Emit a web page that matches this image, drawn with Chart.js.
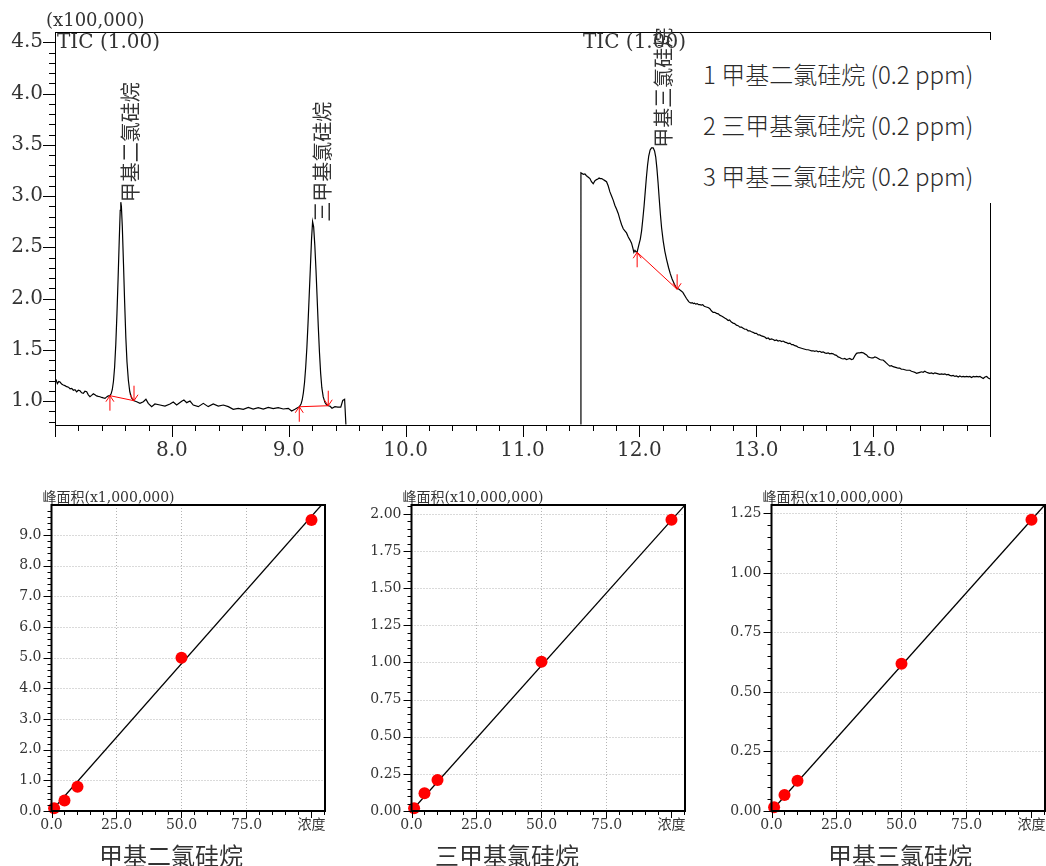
<!DOCTYPE html>
<html><head><meta charset="utf-8">
<script src="https://cdn.jsdelivr.net/npm/chart.js@4.4.1/dist/chart.umd.min.js"></script>
<style>
html,body{margin:0;padding:0;background:#fff;}
body{width:1046px;height:866px;overflow:hidden;position:relative;font-family:'Noto Sans CJK SC',sans-serif;}
canvas{position:absolute;}
#legend{position:absolute;left:700px;top:40px;width:292px;height:163px;background:#fff;padding:8px 0 0 3px;box-sizing:border-box;font-size:24px;line-height:51px;color:#2b2b2b;font-weight:300;white-space:nowrap;}
.ptitle{position:absolute;top:838px;font-size:24px;line-height:34px;color:#333;white-space:nowrap;transform:translateX(-50%);}
</style></head><body>
<canvas id="tic" width="1046" height="460" style="left:0;top:0"></canvas>
<div id="legend"></div>
<canvas id="cal0" width="340" height="386" style="left:0;top:480px"></canvas>
<canvas id="cal1" width="340" height="386" style="left:360px;top:480px"></canvas>
<canvas id="cal2" width="340" height="386" style="left:720px;top:480px"></canvas>
<div class="ptitle" id="pt0" style="left:171px"></div>
<div class="ptitle" id="pt1" style="left:507px"></div>
<div class="ptitle" id="pt2" style="left:900px"></div>
<script>
// ---------- chromatogram data (time in min, abundance x100,000) ----------
const seg1Time = [7.000,7.010,7.020,7.032,7.043,7.057,7.071,7.085,7.100,7.115,7.129,7.143,7.157,7.171,7.185,7.200,7.214,7.228,7.242,7.256,7.271,7.285,7.299,7.313,7.328,7.342,7.356,7.370,7.385,7.399,7.414,7.428,7.442,7.456,
 7.470,7.480,7.490,7.500,7.510,7.520,7.530,7.540,7.550,7.558,7.563,7.568,7.576,7.586,7.596,7.606,7.616,7.628,7.640,7.655,7.676,
 7.699,7.727,7.756,7.778,7.798,7.827,7.855,7.898,7.941,7.984,8.012,8.041,8.084,8.103,8.127,8.155,8.183,8.226,8.269,8.311,8.354,8.397,8.440,8.483,8.525,8.568,8.611,8.654,8.696,8.739,8.782,8.825,8.867,8.910,8.953,8.996,9.025,9.053,
 9.090,9.105,9.115,9.125,9.135,9.145,9.155,9.165,9.175,9.185,9.195,9.204,9.213,9.223,9.233,9.243,9.253,9.263,9.273,9.283,9.295,9.310,9.325,9.338,
 9.352,9.370,9.395,9.420,9.445,9.462,9.478,9.489];
const seg1Abund = [1.22,1.205,1.17,1.19,1.185,1.165,1.156,1.15,1.14,1.135,1.12,1.124,1.105,1.11,1.09,1.105,1.10,1.08,1.075,1.095,1.09,1.06,1.042,1.055,1.07,1.06,1.05,1.045,1.042,1.035,1.03,1.026,1.04,1.05,
 1.052,1.07,1.11,1.19,1.33,1.55,1.85,2.20,2.58,2.86,2.94,2.90,2.70,2.34,1.96,1.62,1.38,1.20,1.09,1.03,1.003,
 0.993,0.977,0.993,1.017,0.977,0.945,0.971,0.961,0.951,0.971,0.990,0.961,0.997,1.010,0.984,1.000,0.961,0.945,0.977,0.945,0.971,0.951,0.961,0.945,0.919,0.929,0.919,0.938,0.922,0.935,0.922,0.938,0.926,0.935,0.922,0.929,0.902,0.919,
 0.944,0.97,1.01,1.08,1.18,1.33,1.52,1.76,2.03,2.30,2.58,2.75,2.70,2.52,2.28,2.00,1.72,1.47,1.27,1.13,1.04,0.985,0.96,0.954,
 0.950,0.930,0.945,0.940,0.940,1.005,1.017,0.77];
const seg2Time = [11.500,11.500,11.510,11.520,11.534,11.545,11.555,11.566,11.577,11.590,11.605,11.620,11.634,11.645,11.655,11.666,11.677,11.690,11.705,11.719,11.733,11.748,11.762,11.776,11.790,11.805,11.819,11.834,11.848,11.862,11.876,11.890,11.905,11.920,11.933,11.945,11.953,11.962,11.971,11.981,
 11.995,12.008,12.019,12.030,12.040,12.050,12.060,12.070,12.080,12.092,12.104,12.118,12.130,12.140,12.150,12.160,12.170,12.180,12.190,12.204,12.218,12.233,12.250,12.265,12.280,12.300,12.318,
 12.330,12.340,12.350,12.361,12.372,12.382,12.393,12.403,12.413,12.422,12.432,12.442,12.452,12.462,12.472,12.482,12.495,12.507,12.518,12.530,12.542,12.555,12.567,12.580,12.592,12.603,12.616,12.631,12.645,12.660,12.675,12.690,12.703,12.717,12.730,12.745,12.760,12.772,12.787,12.802,12.815,12.830,12.845,12.860,12.874,12.888,12.902,12.916,12.930,12.945,12.959,12.973,12.987,13.002,13.016,13.030,13.045,13.059,13.073,13.088,13.102,13.116,13.130,13.145,13.159,13.173,13.187,13.202,13.216,13.230,13.245,13.259,13.273,13.288,13.302,13.316,13.330,13.345,13.359,13.373,13.387,13.401,13.416,13.430,13.444,13.458,13.472,13.487,13.501,13.515,13.530,13.544,13.558,13.572,13.587,13.601,13.615,13.629,13.644,13.658,13.672,13.686,13.700,13.715,13.729,13.743,13.757,13.772,13.786,13.800,13.815,13.829,13.843,13.858,13.872,13.886,13.900,13.915,13.929,13.944,13.958,13.972,13.986,14.000,14.015,14.029,14.043,14.057,14.071,14.085,14.100,14.114,14.128,14.143,14.157,14.171,14.185,14.200,14.214,14.228,14.242,14.257,14.271,14.285,14.300,14.314,14.328,14.342,14.357,14.371,14.385,14.400,14.414,14.428,14.442,14.457,14.471,14.485,14.500,14.514,14.528,14.542,14.557,14.571,14.585,14.600,14.614,14.628,14.642,14.657,14.671,14.685,14.700,14.714,14.728,14.742,14.757,14.771,14.785,14.800,14.814,14.828,14.842,14.857,14.871,14.885,14.900,14.914,14.928,14.942,14.957,14.971,14.985,15.000];
const seg2Abund = [0.77,3.227,3.22,3.212,3.215,3.20,3.19,3.18,3.17,3.14,3.12,3.15,3.16,3.165,3.175,3.17,3.17,3.16,3.15,3.14,3.10,3.04,3.00,2.96,2.91,2.87,2.83,2.77,2.72,2.68,2.66,2.64,2.60,2.57,2.54,2.49,2.45,2.47,2.455,2.455,
 2.52,2.58,2.66,2.78,2.90,3.04,3.18,3.30,3.39,3.45,3.47,3.47,3.44,3.38,3.27,3.13,2.97,2.82,2.69,2.56,2.46,2.38,2.30,2.24,2.19,2.14,2.10,
 2.095,2.09,2.08,2.07,2.06,2.04,2.02,2.00,1.985,1.97,1.96,1.955,1.96,1.95,1.955,1.945,1.95,1.94,1.94,1.935,1.94,1.925,1.92,1.915,1.91,1.90,1.88,1.865,1.865,1.855,1.85,1.835,1.83,1.82,1.81,1.80,1.785,1.79,1.77,1.76,1.755,1.74,1.735,1.72,1.72,1.71,1.70,1.70,1.685,1.685,1.675,1.67,1.66,1.66,1.645,1.645,1.635,1.63,1.625,1.61,1.615,1.60,1.605,1.60,1.59,1.595,1.585,1.59,1.58,1.585,1.575,1.57,1.56,1.565,1.55,1.55,1.54,1.535,1.525,1.52,1.515,1.51,1.505,1.50,1.50,1.495,1.49,1.49,1.485,1.49,1.48,1.485,1.475,1.48,1.47,1.465,1.47,1.46,1.465,1.46,1.45,1.445,1.43,1.425,1.415,1.41,1.415,1.405,1.41,1.415,1.405,1.41,1.44,1.465,1.47,1.47,1.475,1.47,1.46,1.45,1.43,1.425,1.42,1.42,1.43,1.425,1.415,1.405,1.40,1.40,1.385,1.37,1.355,1.34,1.345,1.335,1.33,1.325,1.32,1.32,1.31,1.31,1.305,1.30,1.30,1.30,1.29,1.285,1.28,1.27,1.275,1.28,1.285,1.28,1.29,1.28,1.275,1.27,1.275,1.265,1.275,1.27,1.265,1.26,1.265,1.26,1.265,1.255,1.26,1.25,1.245,1.25,1.24,1.245,1.235,1.245,1.235,1.24,1.235,1.24,1.235,1.24,1.23,1.24,1.235,1.24,1.235,1.24,1.23,1.22,1.235,1.24,1.225,1.215];

const peakNames = ['甲基二氯硅烷', '三甲基氯硅烷', '甲基三氯硅烷'];
const peakTimes = [7.562, 9.204, 12.116];
const peakHeights = [2.94, 2.75, 3.47];
const integStartTime = [7.470, 9.090, 11.981];
const integStartAbund = [1.052, 0.944, 2.451];
const integEndTime = [7.676, 9.338, 12.323];
const integEndAbund = [1.003, 0.954, 2.090];
const segmentStartTimes = [7.0, 11.5];
const segmentLabel = 'TIC (1.00)';
const ticUnitLabel = '(x100,000)';
const legendConc = '(0.2 ppm)';

// ---------- calibration data ----------
const calConc = [1, 5, 10, 50, 100];
const calArea1 = [0.09, 0.34, 0.79, 5.00, 9.49];
const calArea2 = [0.018, 0.119, 0.209, 1.005, 1.96];
const calArea3 = [0.0155, 0.067, 0.127, 0.618, 1.223];
const calFitConc = [0, 105];
const calFit1 = [0, 10.09];
const calFit2 = [0, 2.056];
const calFit3 = [0, 1.284];
const calAxisTitles = ['峰面积(x1,000,000)', '峰面积(x10,000,000)', '峰面积(x10,000,000)'];
const calXTitle = '浓度';

Chart.defaults.font.family = "'DejaVu Serif','Noto Sans CJK SC'";
Chart.defaults.color = '#333';

function pts(xs, ys){ return xs.map((x,i)=>({x:x, y:ys[i]})); }
function isMult(v, s){ return Math.abs(v/s - Math.round(v/s)) < 1e-6; }
function line(ctx,x1,y1,x2,y2){ ctx.beginPath(); ctx.moveTo(x1,y1); ctx.lineTo(x2,y2); ctx.stroke(); }

// legend & titles
document.getElementById('legend').innerHTML = peakNames.map((n,i)=>`<div>${i+1} ${n} ${legendConc}</div>`).join('');
peakNames.forEach((n,i)=>{ document.getElementById('pt'+i).textContent = n; });

// ---------- TIC chart ----------
const ticDeco = {
  id:'ticDeco',
  afterDraw(chart){
    const {ctx, chartArea:a, scales:{x,y}} = chart;
    ctx.save();
    ctx.strokeStyle = '#000'; ctx.lineWidth = 1;
    ctx.strokeRect(a.left+0.5, a.top+0.5, a.right-a.left, a.bottom-a.top);
    x.ticks.forEach(t=>{
      const px = Math.round(x.getPixelForValue(t.value))+0.5;
      const L = isMult(t.value,1) ? 12 : 6;
      line(ctx, px, a.bottom, px, a.bottom+L);
    });
    y.ticks.forEach(t=>{
      const py = Math.round(y.getPixelForValue(t.value))+0.5;
      const L = isMult(t.value,0.5) ? 12 : 6;
      line(ctx, a.left-L, py, a.left, py);
    });
    // integration arrows
    ctx.strokeStyle = '#ff0000'; ctx.lineWidth = 1;
    for (let i=0;i<integStartTime.length;i++){
      const sx = x.getPixelForValue(integStartTime[i]), sy = y.getPixelForValue(integStartAbund[i]);
      const ex = x.getPixelForValue(integEndTime[i]), ey = y.getPixelForValue(integEndAbund[i]);
      line(ctx, sx, sy, sx, sy+15); line(ctx, sx, sy, sx-4, sy+6); line(ctx, sx, sy, sx+4, sy+6);
      line(ctx, ex, ey-15, ex, ey); line(ctx, ex, ey, ex-4, ey-6); line(ctx, ex, ey, ex+4, ey-6);
    }
    // texts
    ctx.fillStyle = '#333';
    ctx.textBaseline = 'middle'; ctx.textAlign = 'left';
    ctx.font = "18px 'DejaVu Serif'";
    ctx.fillText(ticUnitLabel, a.left-9, 21);
    ctx.font = "20px 'DejaVu Serif'";
    segmentStartTimes.forEach(t=>{ ctx.fillText(segmentLabel, x.getPixelForValue(t)+2, 43); });
    ctx.font = "20px 'Noto Sans CJK SC'";
    peakNames.forEach((n,i)=>{
      const px = x.getPixelForValue(peakTimes[i]) + 10;
      const py = y.getPixelForValue(peakHeights[i]);
      ctx.save(); ctx.translate(px, py); ctx.rotate(-Math.PI/2);
      ctx.textAlign = 'left'; ctx.textBaseline = 'middle';
      ctx.fillText(n, 0, 0);
      ctx.restore();
    });
    ctx.restore();
  }
};

const redSets = integStartTime.map((t,i)=>({
  data: pts([t, integEndTime[i]], [integStartAbund[i], integEndAbund[i]]),
  borderColor:'#ff0000', borderWidth:1, pointRadius:0, tension:0, fill:false
}));

new Chart(document.getElementById('tic'), {
  type:'line',
  data:{ datasets:[...redSets,
    {data:pts(seg1Time, seg1Abund), borderColor:'#000', borderWidth:1.2, pointRadius:0, tension:0, fill:false},
    {data:pts(seg2Time, seg2Abund), borderColor:'#000', borderWidth:1.2, pointRadius:0, tension:0, fill:false}
  ]},
  options:{
    responsive:false, animation:false, events:[],
    plugins:{legend:{display:false}, tooltip:{enabled:false}},
    layout:{padding:{left:0, top:32, right:56, bottom:0}},
    scales:{
      x:{type:'linear', min:7.0, max:15.0,
        afterFit(s){ s.height = 35; },
        grid:{display:false, drawTicks:true, tickLength:12}, border:{display:false},
        ticks:{stepSize:0.2, autoSkip:false, includeBounds:false, maxRotation:0, padding:2,
          font:{size:20, family:"'DejaVu Serif'"}, color:'#333',
          callback(v){ return (isMult(v,1) && v>7.01 && v<14.99) ? v.toFixed(1) : ''; }}},
      y:{type:'linear', min:0.766, max:4.6,
        afterFit(s){ s.width = 55; },
        grid:{display:false, drawTicks:true, tickLength:12}, border:{display:false},
        ticks:{stepSize:0.1, autoSkip:false, includeBounds:false, padding:0,
          font:{size:20, family:"'DejaVu Serif'"}, color:'#333',
          callback(v){ return isMult(v,0.5) ? v.toFixed(1) : ''; }}}
    }
  },
  plugins:[ticDeco]
});

// ---------- calibration charts ----------
const calAreas = [calArea1, calArea2, calArea3];
const calFits = [calFit1, calFit2, calFit3];
const calYMax = [9.98, 2.06, 1.285];
const calYStep = [0.2, 0.05, 0.05];
const calYMajor = [1, 0.25, 0.25];
const calYDec = [1, 2, 2];

function makeCal(k){
  const deco = {
    id:'calDeco'+k,
    beforeDatasetsDraw(chart){
      const {ctx, chartArea:a, scales:{x,y}} = chart;
      ctx.save();
      ctx.strokeStyle = '#b4b4b4'; ctx.lineWidth = 1; ctx.setLineDash([1,2]);
      x.ticks.forEach(t=>{
        if (isMult(t.value,25) && t.value>0 && t.value<100){
          const px = Math.round(x.getPixelForValue(t.value))+0.5; line(ctx, px, a.top, px, a.bottom);
        }
      });
      y.ticks.forEach(t=>{
        if (isMult(t.value,calYMajor[k]) && t.value>0){
          const py = Math.round(y.getPixelForValue(t.value))+0.5; line(ctx, a.left, py, a.right, py);
        }
      });
      ctx.restore();
    },
    afterDraw(chart){
      const {ctx, chartArea:a, scales:{x,y}} = chart;
      ctx.save();
      ctx.strokeStyle = '#000'; ctx.lineWidth = 2;
      ctx.strokeRect(a.left, a.top, a.right-a.left, a.bottom-a.top);
      ctx.lineWidth = 1;
      x.ticks.forEach(t=>{
        const px = Math.round(x.getPixelForValue(t.value))+0.5;
        const L = isMult(t.value,25) ? 7 : 4;
        line(ctx, px, a.bottom, px, a.bottom+L);
      });
      y.ticks.forEach(t=>{
        const py = Math.round(y.getPixelForValue(t.value))+0.5;
        const L = isMult(t.value,calYMajor[k]) ? 8 : 4;
        line(ctx, a.left-L, py, a.left, py);
      });
      ctx.fillStyle = '#333'; ctx.textAlign = 'left'; ctx.textBaseline = 'middle';
      ctx.font = "14px 'DejaVu Serif','Noto Sans CJK SC'";
      ctx.fillText(calAxisTitles[k], a.left-9, 18);
      ctx.restore();
    }
  };
  new Chart(document.getElementById('cal'+k), {
    type:'scatter',
    data:{datasets:[
      {data:pts(calConc, calAreas[k]), backgroundColor:'#ff0000', borderColor:'#ff0000', pointRadius:6, pointBorderWidth:0, clip:false},
      {type:'line', data:pts(calFitConc, calFits[k]), borderColor:'#000', borderWidth:1.3, pointRadius:0, tension:0, fill:false}
    ]},
    options:{
      responsive:false, animation:false, events:[],
      plugins:{legend:{display:false}, tooltip:{enabled:false}},
      layout:{padding:{left:0, top:25, right:15, bottom:0}},
      scales:{
        x:{type:'linear', min:0, max:105.2,
          afterFit(s){ s.height = 55; },
          grid:{display:false, drawTicks:true, tickLength:6}, border:{display:false},
          ticks:{stepSize:5, autoSkip:false, includeBounds:false, maxRotation:0, padding:0,
            font:{size:14, family:"'DejaVu Serif','Noto Sans CJK SC'"}, color:'#333',
            callback(v){ if (Math.abs(v-100)<1e-6) return calXTitle; return (isMult(v,25) && v<99) ? v.toFixed(1) : ''; }}},
        y:{type:'linear', min:0, max:calYMax[k],
          afterFit(s){ s.width = 51.5; },
          grid:{display:false, drawTicks:true, tickLength:8}, border:{display:false},
          ticks:{stepSize:calYStep[k], autoSkip:false, includeBounds:false, padding:2,
            font:{size:14, family:"'DejaVu Serif'"}, color:'#333',
            callback(v){ return isMult(v,calYMajor[k]) ? v.toFixed(calYDec[k]) : ''; }}}
      }
    },
    plugins:[deco]
  });
}
[0,1,2].forEach(makeCal);
</script>
</body></html>
